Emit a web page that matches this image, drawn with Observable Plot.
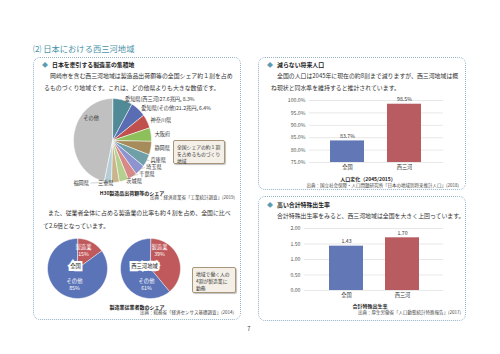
<!DOCTYPE html>
<html><head><meta charset="utf-8">
<script src="https://cdn.jsdelivr.net/npm/d3@7"></script>
<script src="https://cdn.jsdelivr.net/npm/@observablehq/plot@0.6"></script>
<style>
html,body{margin:0;padding:0;background:#fff;}
#page{position:relative;width:500px;height:354px;overflow:hidden;font-family:"Noto Sans CJK JP","Noto Sans",sans-serif;color:#333;}
.a{position:absolute;white-space:nowrap;line-height:1;transform:translateY(-50%);}
.r{transform:translate(-100%,-50%);}
.c{transform:translate(-50%,-50%);}
.box{position:absolute;border:1px dotted #93b3c6;border-radius:7px;box-sizing:border-box;}
.ttl{font-size:8.3px;color:#4a93a8;}
.hd{font-size:5.9px;font-weight:bold;color:#222;}
.dia{font-size:6px;color:#5b9cb2;}
.bd{font-size:5.9px;color:#333;}
.cap{font-size:4.5px;color:#444;}
.ct{font-size:5px;font-weight:bold;color:#222;}
.call{position:absolute;background:#f4f0e8;border:0.8px solid #a8957a;border-radius:2px;font-size:4.8px;line-height:7.3px;box-sizing:border-box;padding:1.5px 3px;color:#333;box-shadow:1px 1px 1px rgba(0,0,0,.25);white-space:nowrap;}
.plot{position:absolute;}
</style></head>
<body>
<div id="page"></div>
<script>
// ---------------- data ----------------
const shareRegions = ["愛知県(西三河)","愛知県(その他)","神奈川県","大阪府","静岡県","兵庫県","埼玉県","千葉県","茨城県","三重県","福岡県","その他"];
const shareValues  = [8.3, 6.4, 5.4, 5.2, 5.2, 4.9, 4.2, 3.8, 3.8, 3.2, 3.0, 46.6];
const shareAmounts = [27.6, 21.2, null, null, null, null, null, null, null, null, null, null];
const shareColors  = ["#4f8a96","#5a6db3","#c0504d","#8dbf5b","#a68b5b","#6fa0a8","#8d94d0","#d98888","#b3d08e","#c9b48c","#b4cdd6","#c0c0c0"];

const empCategories   = ["製造業","その他"];
const empNational     = [15, 85];
const empNishimikawa  = [39, 61];
const empColors       = ["#c0595c","#5b73b7"];

const barCategories = ["全国","西三河"];
const barColors     = ["#6278b6","#b85c62"];
const popValues     = [83.7, 98.5];
const popTicks      = [75, 80, 85, 90, 95, 100];
const tfrValues     = [1.43, 1.70];
const tfrTicks      = [0, 0.5, 1.0, 1.5, 2.0];

// ---------------- page helpers ----------------
const page = document.getElementById("page");
function txt(x, y, s, cls, align) {
  const d = document.createElement("div");
  d.className = "a " + cls + (align === "r" ? " r" : align === "c" ? " c" : "");
  d.style.left = x + "px"; d.style.top = y + "px";
  d.textContent = s; page.appendChild(d); return d;
}
function box(l, t, w, h) {
  const d = document.createElement("div"); d.className = "box";
  Object.assign(d.style, {left: l + "px", top: t + "px", width: w + "px", height: h + "px"});
  page.appendChild(d);
}
function callout(l, t, w, h, lines) {
  const d = document.createElement("div"); d.className = "call";
  Object.assign(d.style, {left: l + "px", top: t + "px", width: w + "px", height: h + "px"});
  d.innerHTML = lines.join("<br>"); page.appendChild(d);
}
function put(svg, l, t) { svg.classList.add("plot"); svg.style.left = l + "px"; svg.style.top = t + "px"; page.appendChild(svg); }
const baseStyle = {fontFamily: '"Noto Sans CJK JP", sans-serif', fontSize: "5.2px", background: "transparent", overflow: "visible", color: "#333"};

// ---------------- frame text ----------------
txt(33, 48, "⑵ 日本における西三河地域", "ttl");
box(33, 57, 208, 263);
box(258, 57, 208, 133);
box(258, 196, 208, 125);

txt(42, 65, "◆", "dia"); txt(52, 65, "日本を牽引する製造業の集積地", "hd");
txt(50, 76, "岡崎市を含む西三河地域は製造品出荷額等の全国シェア約１割を占め", "bd");
txt(44, 88, "るものづくり地域です。これは、どの他県よりも大きな数値です。", "bd");
txt(132, 191.5, "H30製造品出荷額等のシェア", "ct", "c");
txt(235, 197, "出典：経済産業省「工業統計調査」(2019)", "cap", "r");
callout(173, 140, 52, 24, ["全国シェアの約１割", "を占めるものづくり", "地域"]);

txt(48, 213, "また、従業者全体に占める製造業の比率も約４割を占め、全国に比べ", "bd");
txt(43, 226, "て2.6倍となっています。", "bd");
txt(137, 306, "製造業従業者数のシェア", "ct", "c");
txt(234, 312, "出典：総務省「経済センサス基礎調査」(2014)", "cap", "r");
callout(192, 267, 44, 26, ["地域で働く人の", "4割が製造業に", "勤務"]);

txt(267, 65, "◆", "dia"); txt(277, 65, "減らない将来人口", "hd");
txt(277, 76, "全国の人口は2045年に現在の約8割まで減りますが、西三河地域は概", "bd");
txt(271, 87.5, "ね現状と同水準を維持すると推計されています。", "bd");
txt(368, 178, "人口変化（2045/2015）", "ct", "c");
txt(459, 184.5, "出典：国立社会保障・人口問題研究所「日本の地域別将来推計人口」(2018)", "cap", "r");

txt(267, 205, "◆", "dia"); txt(277, 205, "高い合計特殊出生率", "hd");
txt(277, 215.5, "合計特殊出生率をみると、西三河地域は全国を大きく上回っています。", "bd");
txt(370, 305, "合計特殊出生率", "ct", "c");
txt(461, 312, "出典：厚生労働省「人口動態統計特殊報告」(2017)", "cap", "r");

txt(249, 329, "7", "bd", "c");

// ---------------- pie helpers ----------------
function pieGeometry(values, names) {
  const arcs = d3.pie().sort(null).value(d => d)(values);
  const pts = [];
  arcs.forEach((a, i) => {
    const n = Math.max(2, Math.ceil((a.endAngle - a.startAngle) / 0.03));
    pts.push({name: names[i], px: 0, py: 0});
    for (let k = 0; k <= n; k++) {
      const t = a.startAngle + (a.endAngle - a.startAngle) * k / n;
      pts.push({name: names[i], px: Math.sin(t), py: Math.cos(t)});
    }
  });
  return {arcs, pts};
}

// ---------------- pie 1: shipments share ----------------
{
  const RX = 39, RY = 42, FS = 5.2, W = 170, H = 104, CX = 72, CY = 52;
  const {arcs, pts} = pieGeometry(shareValues, shareRegions);
  const labels = arcs.map((a, i) => {
    const m = (a.startAngle + a.endAngle) / 2;
    return {
      name: shareRegions[i], m, v: shareValues[i],
      text: shareAmounts[i] != null ? `${shareRegions[i]}${shareAmounts[i]}兆円, ${shareValues[i]}%` : shareRegions[i],
      lx: 1.04 * Math.sin(m), ly: 1.02 * Math.cos(m)
    };
  });
  // right-side labels: spread upward from the bottom so they do not collide
  const right = labels.filter(l => l.v <= 20 && Math.sin(l.m) > 0.2);
  right.forEach(l => l.anchor = "start");
  const gap = 7 / RY;
  for (let k = right.length - 1; k > 0; k--) {
    const lower = right[k], upper = right[k - 1];
    if (upper.ly < -0.2 && upper.ly - lower.ly < gap) { upper.ly = lower.ly + gap; upper.moved = true; }
  }
  right.forEach(l => {
    if (l.moved) { const yy = Math.max(-1, Math.min(1, l.ly / 1.02)); l.lx = 1.04 * Math.sqrt(1 - yy * yy); }
  });
  // left/bottom labels: stack leftwards
  let cursor = null;
  labels.forEach(l => {
    if (l.v > 20) { l.anchor = "inside"; l.ix = 0.55 * Math.sin(l.m); l.iy = 0.55 * Math.cos(l.m); return; }
    if (l.anchor === "start") return;
    l.anchor = "end";
    let end = l.lx - 2 / RX;
    if (cursor !== null && end > cursor) { end = cursor; l.shifted = true; }
    l.ex = end;
    cursor = end - l.text.length * FS / RX - 9 / RX;
  });
  const svg = Plot.plot({
    width: W, height: H, margin: 0, style: baseStyle,
    x: {domain: [-1, 1], range: [CX - RX, CX + RX], axis: null},
    y: {domain: [-1, 1], range: [CY + RY, CY - RY], axis: null},
    color: {domain: shareRegions, range: shareColors},
    marks: [
      Plot.line(pts, {x: "px", y: "py", z: "name", fill: "name", stroke: "white", strokeWidth: 0.6, curve: "linear-closed"}),
      Plot.link(labels.filter(l => l.shifted), {x1: d => Math.sin(d.m), y1: d => Math.cos(d.m), x2: d => d.ex + 1.5 / RX, y2: d => d.ly, stroke: "#888", strokeWidth: 0.4}),
      Plot.link(labels.filter(l => l.moved), {x1: d => 0.97 * Math.sin(d.m), y1: d => 0.97 * Math.cos(d.m), x2: d => d.lx + 1 / RX, y2: d => d.ly, stroke: "#888", strokeWidth: 0.4}),
      Plot.text(labels.filter(l => l.anchor === "start"), {x: "lx", y: "ly", text: "text", textAnchor: "start", dx: 2, fill: "#333"}),
      Plot.text(labels.filter(l => l.anchor === "end"), {x: "ex", y: "ly", text: "text", textAnchor: "end", fill: "#333"}),
      Plot.text(labels.filter(l => l.anchor === "inside"), {x: "ix", y: "iy", text: "text", dy: -20, fill: "#333"})
    ]
  });
  put(svg, 40, 88);
}

// ---------------- pies 2: employment share ----------------
function smallPie(values, region, left, opts) {
  const R = 30, W = 64, H = 64;
  const {arcs, pts} = pieGeometry(values, empCategories);
  const data = arcs.map((a, i) => ({text: `${empCategories[i]}\n${values[i]}%`}));
  const svg = Plot.plot({
    width: W, height: H, margin: 0, style: {...baseStyle, fontSize: "5.3px"},
    x: {domain: [-1, 1], range: [W / 2 - R, W / 2 + R], axis: null},
    y: {domain: [-1, 1], range: [H / 2 + R, H / 2 - R], axis: null},
    color: {domain: empCategories, range: empColors},
    marks: [
      Plot.line(pts, {x: "px", y: "py", z: "name", fill: "name", stroke: "white", strokeWidth: 0.5, curve: "linear-closed"}),
      Plot.text([data[0]], {frameAnchor: "middle", text: "text", fill: "white", lineHeight: 1.3, dx: opts.dx1, dy: -18.5}),
      Plot.text([data[1]], {frameAnchor: "middle", text: "text", fill: "white", lineHeight: 1.3, dx: opts.dx2, dy: 15.5}),
      Plot.text([region], {frameAnchor: "middle", text: d => d, fill: "#222", stroke: "white", strokeWidth: 4, strokeLinejoin: "miter", dx: opts.dx3, dy: -2})
    ]
  });
  put(svg, left, 236);
}
smallPie(empNational, "全国", 45, {dx1: 6, dx2: -3, dx3: -2});
smallPie(empNishimikawa, "西三河地域", 118, {dx1: 9, dx2: -4, dx3: -6});

// ---------------- bar charts ----------------
function barChart(values, ticks, fmt, top, marginLeft, padOuter) {
  const data = barCategories.map((c, i) => ({cat: c, v: values[i]}));
  const y0 = ticks[0];
  const hasAxis = typeof Plot.axisY === "function";
  const marks = [
    Plot.ruleY(ticks, {stroke: "#d9d9d9", strokeWidth: 0.6}),
    Plot.barY(data, {x: "cat", y1: y0, y2: "v", fill: "cat"}),
    Plot.text(data, {x: "cat", y: "v", text: d => fmt(d.v), dy: -4.5, fill: "#333"})
  ];
  if (hasAxis) {
    marks.push(Plot.axisY(ticks, {tickSize: 0, tickPadding: 4, tickFormat: fmt, label: null, fill: "#555"}));
    marks.push(Plot.axisX({tickSize: 0, tickPadding: 2.5, label: null, fill: "#333"}));
  }
  const svg = Plot.plot({
    width: 216, height: 80, marginLeft, marginRight: 23, marginTop: 8, marginBottom: 10,
    style: baseStyle,
    x: {domain: barCategories, paddingInner: 0.4, paddingOuter: padOuter, label: null, ...(hasAxis ? {axis: null} : {tickSize: 0, tickPadding: 2.5})},
    y: {domain: [ticks[0], ticks[ticks.length - 1]], label: null, ...(hasAxis ? {axis: null} : {ticks: ticks.length - 1, tickFormat: fmt, tickSize: 0, tickPadding: 4})},
    color: {domain: barCategories, range: barColors},
    marks
  });
  put(svg, 250, top);
}
barChart(popValues, popTicks, d => d.toFixed(1) + "%", 92, 59, 0.365);
barChart(tfrValues, tfrTicks, d => d.toFixed(2), 220, 54, 0.42);
</script>
</body></html>
